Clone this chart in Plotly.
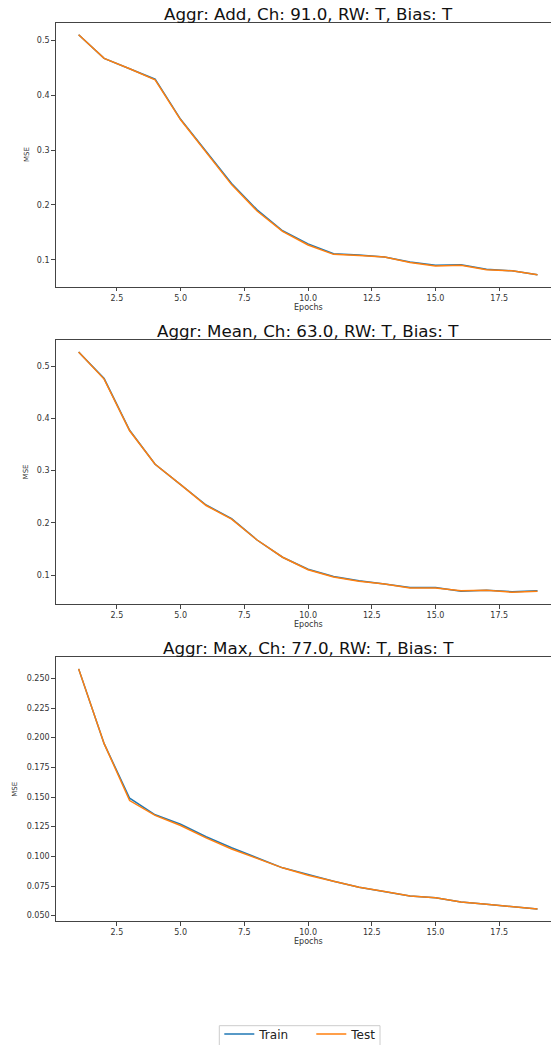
import plotly.graph_objects as go

epochs = list(range(1, 20))

titles = [
    "Aggr: Add, Ch: 91.0, RW: T, Bias: T",
    "Aggr: Mean, Ch: 63.0, RW: T, Bias: T",
    "Aggr: Max, Ch: 77.0, RW: T, Bias: T",
]

add_train = [0.510, 0.467, 0.448, 0.429, 0.356, 0.298, 0.239, 0.191, 0.153, 0.129,
             0.111, 0.109, 0.105, 0.096, 0.090, 0.091, 0.083, 0.080, 0.073]
add_test = [0.510, 0.467, 0.448, 0.428, 0.355, 0.297, 0.237, 0.189, 0.152, 0.127,
            0.110, 0.108, 0.105, 0.095, 0.089, 0.090, 0.082, 0.080, 0.073]

mean_train = [0.527, 0.476, 0.377, 0.312, 0.273, 0.234, 0.208, 0.167, 0.134, 0.111,
              0.097, 0.089, 0.083, 0.076, 0.076, 0.069, 0.071, 0.068, 0.070]
mean_test = [0.527, 0.475, 0.376, 0.312, 0.273, 0.233, 0.207, 0.167, 0.134, 0.110,
             0.096, 0.088, 0.083, 0.075, 0.075, 0.070, 0.071, 0.067, 0.069]

max_train = [0.258, 0.195, 0.149, 0.135, 0.127, 0.1165, 0.1072, 0.0990, 0.0903, 0.0848,
             0.0790, 0.0739, 0.0703, 0.0666, 0.0650, 0.0616, 0.0596, 0.0576, 0.0556]
max_test = [0.258, 0.195, 0.147, 0.1345, 0.126, 0.1155, 0.1062, 0.0980, 0.0903, 0.0840,
            0.0790, 0.0739, 0.0703, 0.0666, 0.0650, 0.0616, 0.0596, 0.0576, 0.0556]

train_series = [add_train, mean_train, max_train]
test_series = [add_test, mean_test, max_test]

y_ranges = [[0.0511, 0.5319], [0.0445, 0.5498], [0.0455, 0.2680]]
y_dticks = [0.1, 0.1, 0.025]
y_formats = [".1f", ".1f", ".3f"]

W, H = 551, 1045
left_px = 55.7
panels_px = [(22.7, 286.7), (340.0, 604.0), (657.0, 921.0)]
ylabel_x_px = [26.4, 26.4, 14.8]
axes_center_px = 308.0

BLUE = "#1f77b4"
ORANGE = "#ff7f0e"
FONT = "DejaVu Sans"
TICKCOL = "#333333"
LINECOL = "#444444"

fig = go.Figure()
layout = dict(
    width=W, height=H,
    margin=dict(l=0, r=0, t=0, b=0, autoexpand=False),
    paper_bgcolor="white", plot_bgcolor="white",
    font=dict(family=FONT, color=TICKCOL),
    showlegend=True,
    legend=dict(
        orientation="h",
        x=219.3 / W, y=1 - 1019.5 / H,
        xanchor="left", yanchor="top",
        bgcolor="rgba(0,0,0,0)", borderwidth=0,
        font=dict(family=FONT, size=12, color="#222222"),
        itemwidth=30,
        entrywidth=47, entrywidthmode="pixels",
        tracegroupgap=0,
    ),
    shapes=[dict(
        type="rect", xref="paper", yref="paper",
        x0=219.3 / W, x1=380.0 / W, y0=-0.01, y1=1 - 1025.7 / H,
        line=dict(color="#cccccc", width=1), fillcolor="rgba(0,0,0,0)",
        layer="below")],
    annotations=[],
)

for i in range(3):
    n = "" if i == 0 else str(i + 1)
    xa = "x" + n
    ya = "y" + n
    top, bot = panels_px[i]
    fig.add_trace(go.Scatter(
        x=epochs, y=train_series[i], mode="lines", name="Train",
        line=dict(color=BLUE, width=1.5), xaxis=xa, yaxis=ya,
        showlegend=(i == 0)))
    fig.add_trace(go.Scatter(
        x=epochs, y=test_series[i], mode="lines", name="Test",
        line=dict(color=ORANGE, width=1.5), xaxis=xa, yaxis=ya,
        showlegend=(i == 0)))
    layout["xaxis" + n] = dict(
        domain=[left_px / W, 1.0], range=[0.1, 19.53], anchor=ya,
        automargin=False,
        tickmode="linear", tick0=2.5, dtick=2.5, tickformat=".1f",
        showgrid=False, zeroline=False,
        showline=True, linecolor=LINECOL, linewidth=1, mirror=True,
        ticks="outside", ticklen=3.5, tickcolor=LINECOL, tickwidth=1,
        tickfont=dict(family=FONT, size=8, color=TICKCOL),
    )
    layout["yaxis" + n] = dict(
        domain=[1 - bot / H, 1 - top / H], range=y_ranges[i], anchor=xa,
        automargin=False,
        tickmode="linear", tick0=0, dtick=y_dticks[i], tickformat=y_formats[i],
        showgrid=False, zeroline=False,
        showline=True, linecolor=LINECOL, linewidth=1, mirror=False,
        ticks="outside", ticklen=3.5, tickcolor=LINECOL, tickwidth=1,
        tickfont=dict(family=FONT, size=8, color=TICKCOL),
    )
    layout["annotations"].append(dict(
        text=titles[i], xref="paper", yref="paper",
        x=axes_center_px / W, y=1 - (top + 3.0) / H,
        xanchor="center", yanchor="bottom", showarrow=False,
        font=dict(family=FONT, size=16.7, color="#111111")))
    layout["annotations"].append(dict(
        text="Epochs", xref="paper", yref="paper",
        x=axes_center_px / W, y=1 - (bot + 20.5) / H,
        xanchor="center", yanchor="middle", showarrow=False,
        font=dict(family=FONT, size=8, color=TICKCOL)))
    layout["annotations"].append(dict(
        text="MSE", xref="paper", yref="paper",
        x=ylabel_x_px[i] / W, y=1 - (top + bot) / 2 / H,
        xanchor="center", yanchor="middle", showarrow=False, textangle=-90,
        font=dict(family=FONT, size=7, color=TICKCOL)))

fig.update_layout(**layout)
fig.write_html(
    "out.html",
    config={"displayModeBar": False},
    post_script="document.body.style.margin='0';document.body.style.overflow='hidden';",
)
